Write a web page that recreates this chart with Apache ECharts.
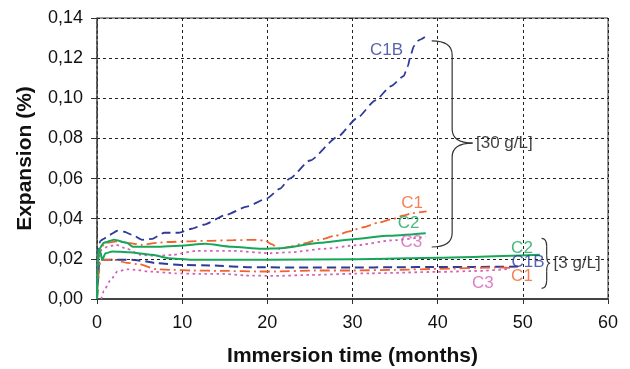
<!DOCTYPE html>
<html>
<head>
<meta charset="utf-8">
<script src="https://cdn.jsdelivr.net/npm/echarts@6/dist/echarts.min.js"></script>
<style>html,body{margin:0;padding:0;background:#fff}#c{width:630px;height:369px}</style>
</head>
<body>
<div id="c"></div>
<script>
// ---- Data (months, expansion %) ----
var xTicks = [0, 10, 20, 30, 40, 50, 60];
var yTicks = [0, 0.02, 0.04, 0.06, 0.08, 0.10, 0.12, 0.14];

// 30 g/L
var c1b30_t = [0,0.15,0.4,0.8,1.5,2.4,3.2,4.1,5.3,6.5,7.9,9.6,11.1,12.5,15.2,17.6,19.9,21.5,22.6,25,28.3,30.5,32.7,34.5,36,36.5,36.8,37.2,37.8,38.5];
var c1b30_v = [0,0.026,0.029,0.030,0.032,0.034,0.0335,0.032,0.0295,0.030,0.033,0.033,0.035,0.037,0.042,0.046,0.050,0.055,0.060,0.069,0.081,0.090,0.099,0.106,0.111,0.116,0.121,0.126,0.129,0.1305];
var c130_t = [0,0.2,0.5,1,2.4,3.5,5.3,7,8.4,10.5,13,16,18.7,19.8,20.5,21.4,22.6,24,26.1,28,29.6,31.2,33,34.7,35.9,37.1,38.7];
var c130_v = [0,0.022,0.026,0.028,0.0287,0.028,0.027,0.028,0.0284,0.0287,0.029,0.0293,0.0295,0.029,0.0273,0.025,0.026,0.0275,0.0295,0.0315,0.0337,0.0357,0.038,0.0398,0.0415,0.0428,0.0437];
var c230_t = [0,0.1,0.2,0.8,2,3.5,4.2,7,9.7,12.7,15.8,19.3,21.6,26.2,30.1,34,38.6];
var c230_v = [0,0.018,0.0245,0.028,0.0295,0.028,0.026,0.026,0.0265,0.0275,0.026,0.025,0.0253,0.028,0.0298,0.0315,0.0328];
var c330_t = [0,0.2,0.5,1.2,2.2,3.5,5.1,7,8.9,11.7,16,20.3,22.7,26.6,30.5,34.6,38.6];
var c330_v = [0,0.020,0.0245,0.026,0.027,0.025,0.022,0.0215,0.022,0.024,0.024,0.0228,0.0233,0.025,0.0268,0.0292,0.031];

// 3 g/L
var c1b3_t = [0,0.1,0.25,0.5,2,4.1,5.3,7,9.8,13.6,18,25,30,35,40,45,50];
var c1b3_v = [0,0.008,0.018,0.0195,0.0195,0.0195,0.019,0.0178,0.017,0.0167,0.0158,0.0157,0.0157,0.0158,0.016,0.016,0.0162];
var c13_t = [0,0.2,0.4,2,3.5,5,7,9,11,15,19,21,25.5,30,35,40,46.8,49];
var c13_v = [0,0.012,0.0195,0.0195,0.018,0.0173,0.0148,0.0145,0.0142,0.014,0.0137,0.0137,0.0142,0.0142,0.0145,0.015,0.0157,0.0155];
var c23_t = [0,0.1,0.2,0.4,0.6,1,1.8,3.7,6.5,8.4,11.1,20,30,40,52];
var c23_v = [0,0.015,0.025,0.0235,0.0195,0.0228,0.0237,0.0233,0.022,0.0203,0.0195,0.0195,0.0198,0.0205,0.022];
var c33_t = [0.5,0.8,1.6,2.4,3.5,4.7,6,9.2,12,15,17.5,21,25,32,40,45,48.3];
var c33_v = [0,0.004,0.0095,0.0137,0.0148,0.0145,0.0137,0.0128,0.0125,0.0125,0.0117,0.0115,0.012,0.0128,0.0135,0.014,0.015];

// Curve labels: text, month, value
var lblText = ['C1B','C1','C2','C3','C2','C1B','C1','C3'];
var lblX    = [34.0, 37.0, 36.6, 36.9, 49.9, 50.6, 49.9, 45.3];
var lblY    = [0.124, 0.0478, 0.0379, 0.0284, 0.0254, 0.0184, 0.0115, 0.008];
var groupText = ['[30 g/L]', '[3 g/L]'];
// braces: end x, spine x, tip x, top, mid, bottom (data units)
var braceX0  = [39.3, 52.2];
var braceSp  = [41.7, 52.8];
var braceTip = [44.1, 53.2];
var braceTop = [0.1286, 0.0302];
var braceMid = [0.0777, 0.0178];
var braceBot = [0.0259, 0.0053];

var COL = {blue:'#2e3b98', orange:'#f2622e', green:'#17a65a', pink:'#d35fb7'};
var lblCol = [COL.blue, COL.orange, COL.green, COL.pink, COL.green, COL.blue, COL.orange, COL.pink];
var FONT = '"Liberation Sans", Arial, sans-serif';

function zip(t, v){ return t.map(function(x,i){ return [x, v[i]]; }); }
function line(t, v, color, type, w){
  return {type:'line', data: zip(t,v), showSymbol:false, symbol:'none', smooth:0.2, smoothMonotone:'x',
    silent:true, clip:false, lineStyle:{color:color, width:w||1.8, type:type, cap:'butt'}, z:3};
}
var dashB = [9,5], dashDot = [10,4,2,4], dot = [2.5,3.5];

var chart = echarts.init(document.getElementById('c'), null, {renderer:'canvas'});
var labelData = lblText.map(function(t,i){
  return {name:t, value:[lblX[i], lblY[i]], label:{color:lblCol[i]}};
});
var groupData = groupText.map(function(t,i){
  return {name:t, value:[braceTip[i]+0.4, braceMid[i]]};
});
var braceData = braceX0.map(function(x,i){ return [x, braceSp[i], braceTip[i], braceTop[i], braceMid[i], braceBot[i], i===0?14:8]; });

chart.setOption({
  animation:false,
  textStyle:{fontFamily:FONT},
  grid:{left:97, right:22, top:18, bottom:70, outerBoundsMode:'none', containLabel:false,
    show:true, borderColor:'#333', borderWidth:1, backgroundColor:'transparent'},
  xAxis:{type:'value', min:0, max:60, interval:10,
    name:'Immersion time (months)', nameLocation:'middle', nameGap:47,
    nameTextStyle:{fontSize:21, fontWeight:'bold', color:'#111', fontFamily:FONT},
    axisLine:{show:true, onZero:false, lineStyle:{color:'#444', width:2}},
    axisTick:{show:true, inside:false, length:5, lineStyle:{color:'#333'}},
    axisLabel:{fontSize:18, color:'#111', margin:15, fontFamily:FONT,
      formatter:function(v){ return xTicks.indexOf(v)>=0 ? String(v) : ''; }},
    splitLine:{show:true, lineStyle:{color:'#222', width:1, type:[3,3]}}
  },
  yAxis:{type:'value', min:0, max:0.14, interval:0.02,
    name:'Expansion (%)', nameLocation:'middle', nameGap:61,
    nameTextStyle:{fontSize:21, fontWeight:'bold', color:'#111', fontFamily:FONT},
    axisLine:{show:true, onZero:false, lineStyle:{color:'#444', width:1.5, type:[3,2]}},
    axisTick:{show:true, inside:false, length:6, lineStyle:{color:'#333'}},
    axisLabel:{fontSize:18, color:'#111', margin:14, fontFamily:FONT,
      formatter:function(v){ return v.toFixed(2).replace('.', ','); }},
    splitLine:{show:true, lineStyle:{color:'#222', width:1, type:[3,3]}}
  },
  series:[
    line(c1b30_t, c1b30_v, COL.blue, dashB),
    line(c130_t, c130_v, COL.orange, dashDot),
    line(c230_t, c230_v, COL.green, 'solid', 2),
    line(c330_t, c330_v, COL.pink, dot),
    line(c1b3_t, c1b3_v, COL.blue, dashB, 2),
    line(c13_t, c13_v, COL.orange, dashDot),
    line(c23_t, c23_v, COL.green, 'solid', 2),
    line(c33_t, c33_v, COL.pink, dot),
    {type:'scatter', data:labelData, symbolSize:0, silent:true, clip:false, z:5,
      label:{show:true, position:'inside', formatter:'{b}', fontSize:17, fontFamily:FONT}},
    {type:'scatter', data:groupData, symbolSize:0, silent:true, clip:false, z:5,
      label:{show:true, position:'right', distance:0, formatter:'{b}', fontSize:17, color:'#111', fontFamily:FONT}},
    {type:'custom', data:braceData, silent:true, clip:false, z:4,
      renderItem:function(params, api){
        var x0=api.value(0), sp=api.value(1), tp=api.value(2), yt=api.value(3), ym=api.value(4), yb=api.value(5), r=api.value(6);
        var pTop=api.coord([x0,yt]), pSp=api.coord([sp,yt]), pTip=api.coord([tp,ym]), pBot=api.coord([x0,yb]);
        var sx=pSp[0], ty=pTop[1], my=pTip[1], by=pBot[1];
        var st={stroke:'#333', fill:null, lineWidth:1.2};
        return {type:'group', children:[
          {type:'bezierCurve', shape:{x1:pTop[0], y1:ty, x2:sx, y2:ty+r, cpx1:sx, cpy1:ty}, style:st},
          {type:'line', shape:{x1:sx, y1:ty+r, x2:sx, y2:my-r}, style:st},
          {type:'bezierCurve', shape:{x1:sx, y1:my-r, x2:pTip[0], y2:my, cpx1:sx, cpy1:my}, style:st},
          {type:'bezierCurve', shape:{x1:pTip[0], y1:my, x2:sx, y2:my+r, cpx1:sx, cpy1:my}, style:st},
          {type:'line', shape:{x1:sx, y1:my+r, x2:sx, y2:by-r}, style:st},
          {type:'bezierCurve', shape:{x1:sx, y1:by-r, x2:pBot[0], y2:by, cpx1:sx, cpy1:by}, style:st}
        ]};
      }
    }
  ]
});
</script>
</body>
</html>
